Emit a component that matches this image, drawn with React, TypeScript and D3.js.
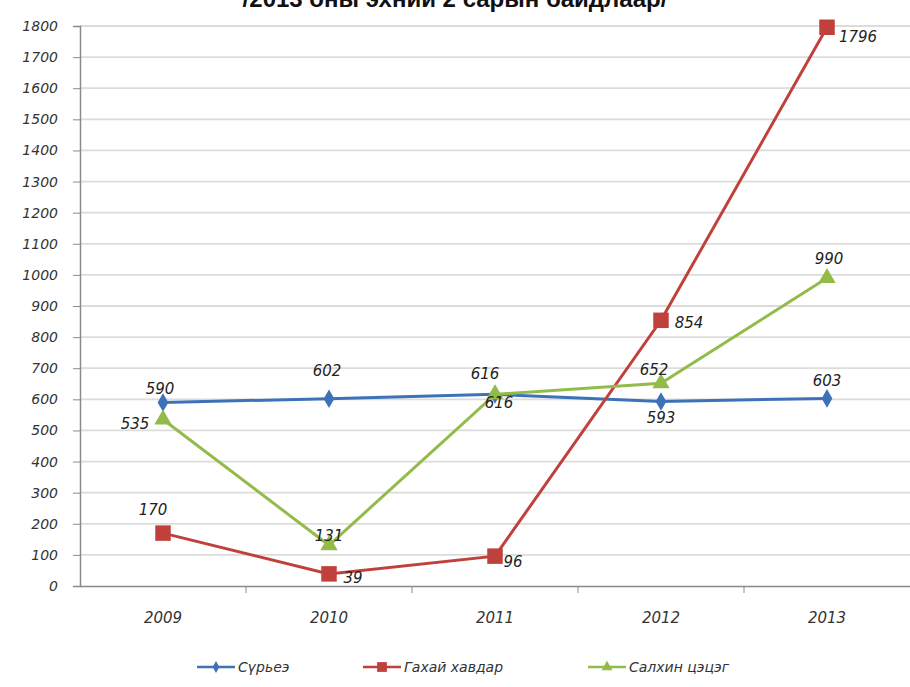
import React, { useEffect, useRef } from 'react';
import * as d3 from 'd3';

const years = ['2009', '2010', '2011', '2012', '2013'];
const tuberculosis = [590, 602, 616, 593, 603];
const mumps = [170, 39, 96, 854, 1796];
const chickenpox = [535, 131, 616, 652, 990];
const seriesNames = ['Сүрьеэ', 'Гахай хавдар', 'Салхин цэцэг'];
const yTicks = d3.range(0, 1801, 100);
const title = '/2013 оны эхний 2 сарын байдлаар/';

// label offsets from each point, [dx, dy]
const labelOffsets = [
  [[-3, -14], [-2, -28], [-10, -21], [0, 16], [0, -18]],
  [[-10, -23], [24, 4], [18, 6], [28, 2], [31, 10]],
  [[-28, 4], [0, -9], [4, 8], [-7, -13], [2, -19]],
];

const W = 910;
const H = 687;
const margin = { top: 26, right: 0, bottom: 101, left: 80 };

export default function App() {
  const svgRef = useRef<SVGSVGElement>(null);

  useEffect(() => {
    if (!svgRef.current) return;
    const svg = d3.select(svgRef.current);
    svg.selectAll('*').remove();

    const font = '"DejaVu Sans", Verdana, sans-serif';
    const x = d3.scaleBand().domain(years).range([margin.left, W - margin.right]);
    const y = d3.scaleLinear().domain([0, 1800]).range([H - margin.bottom, margin.top]);
    const cx = (d: string) => (x(d) || 0) + x.bandwidth() / 2;

    const series = [
      { name: seriesNames[0], values: tuberculosis, color: '#3d72b8', marker: d3.symbolDiamond, size: 100 },
      { name: seriesNames[1], values: mumps, color: '#c0413b', marker: d3.symbolSquare, size: 240 },
      { name: seriesNames[2], values: chickenpox, color: '#93bb4a', marker: d3.symbolTriangle, size: 130 },
    ];

    svg
      .append('text')
      .attr('x', W / 2)
      .attr('y', 7)
      .attr('text-anchor', 'middle')
      .attr('font-family', 'Arial, "Liberation Sans", sans-serif')
      .attr('font-weight', 'bold')
      .attr('font-size', 24)
      .attr('fill', '#111')
      .text(title);

    // grid
    svg
      .append('g')
      .selectAll('line')
      .data(yTicks.filter((t) => t > 0))
      .enter()
      .append('line')
      .attr('x1', margin.left)
      .attr('x2', W - margin.right)
      .attr('y1', (d) => y(d))
      .attr('y2', (d) => y(d))
      .attr('stroke', '#dcdcdc')
      .attr('stroke-width', 1.8);

    // y axis
    const yAxis = svg
      .append('g')
      .attr('transform', `translate(${margin.left},0)`)
      .call(d3.axisLeft(y).tickValues(yTicks).tickSize(7).tickPadding(15).tickFormat(d3.format('d')));
    yAxis.select('.domain').attr('stroke', '#8a8a8a').attr('stroke-width', 1.5);
    yAxis.selectAll('.tick line').attr('stroke', '#8a8a8a');
    yAxis
      .selectAll('.tick text')
      .attr('font-family', font)
      .attr('font-style', 'italic')
      .attr('font-size', 14)
      .attr('fill', '#333');

    // x axis
    const xAxis = svg
      .append('g')
      .attr('transform', `translate(0,${y(0)})`)
      .call(d3.axisBottom(x).tickSize(0).tickPadding(26));
    xAxis.select('.domain').attr('stroke', '#8a8a8a').attr('stroke-width', 1.5);
    xAxis
      .selectAll('.tick text')
      .attr('font-family', font)
      .attr('font-style', 'italic')
      .attr('font-size', 15)
      .attr('fill', '#333');
    svg
      .append('g')
      .selectAll('line')
      .data(years.slice(1))
      .enter()
      .append('line')
      .attr('x1', (d) => x(d) || 0)
      .attr('x2', (d) => x(d) || 0)
      .attr('y1', y(0))
      .attr('y2', y(0) + 7)
      .attr('stroke', '#8a8a8a');

    const line = d3
      .line<number>()
      .x((_, i) => cx(years[i]))
      .y((d) => y(d));

    series.forEach((s) => {
      svg
        .append('path')
        .datum(s.values)
        .attr('d', line)
        .attr('fill', 'none')
        .attr('stroke', s.color)
        .attr('stroke-width', 3);
    });

    series.forEach((s) => {
      svg
        .append('g')
        .selectAll('path')
        .data(s.values)
        .enter()
        .append('path')
        .attr('d', d3.symbol().type(s.marker).size(s.size))
        .attr('transform', (d, i) => `translate(${cx(years[i])},${y(d)})`)
        .attr('fill', s.color);
    });

    series.forEach((s, si) => {
      svg
        .append('g')
        .selectAll('text')
        .data(s.values)
        .enter()
        .append('text')
        .attr('x', (d, i) => cx(years[i]) + labelOffsets[si][i][0])
        .attr('y', (d, i) => y(d) + labelOffsets[si][i][1])
        .attr('dy', '0.35em')
        .attr('text-anchor', 'middle')
        .attr('font-family', font)
        .attr('font-style', 'italic')
        .attr('font-size', 15)
        .attr('fill', '#222')
        .text((d) => d);
    });

    // legend
    const legendX = [197, 363, 588];
    const ly = 667;
    series.forEach((s, i) => {
      const g = svg.append('g').attr('transform', `translate(${legendX[i]},${ly})`);
      g.append('line').attr('x1', 0).attr('x2', 38).attr('stroke', s.color).attr('stroke-width', 2.5);
      g.append('path')
        .attr('d', d3.symbol().type(s.marker).size(s.size * 0.4))
        .attr('transform', 'translate(19,0)')
        .attr('fill', s.color);
      g.append('text')
        .attr('x', 41)
        .attr('dy', '0.35em')
        .attr('font-family', font)
        .attr('font-style', 'italic')
        .attr('font-size', 14)
        .attr('fill', '#333')
        .text(s.name);
    });
  }, []);

  return (
    <svg
      ref={svgRef}
      width={W}
      height={H}
      style={{ position: 'absolute', left: 0, top: 0, background: '#fff' }}
    />
  );
}
